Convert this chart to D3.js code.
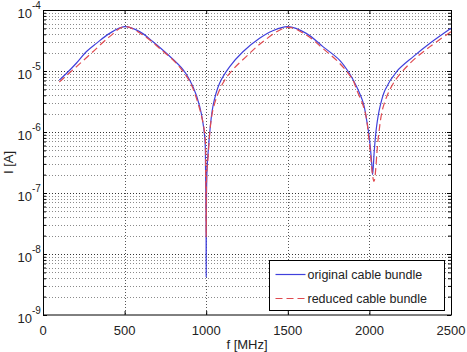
<!DOCTYPE html>
<html>
<head>
<meta charset="utf-8">
<script src="https://cdn.jsdelivr.net/npm/d3@7"></script>
<style>
  body { margin: 0; background: #fff; }
  svg { display: block; font-family: "Liberation Sans", Arial, sans-serif; }
</style>
</head>
<body>
<div id="chart"></div>
<script>
// values
var freqOrig = [100, 143, 204, 265, 327, 408, 500, 592, 674, 756, 858, 919, 960, 991, 996, 999, 1000, 1001, 1004, 1010,
                1041, 1082, 1143, 1225, 1327, 1408, 1500, 1613, 1715, 1817, 1878, 1922, 1963, 1983, 2000, 2014, 2020,
                2030, 2044, 2065, 2096, 2167, 2269, 2371, 2500];
var currOrig = [7.1e-6, 9.1e-6, 1.34e-5, 2.07e-5, 2.84e-5, 4.14e-5, 5.33e-5, 4.42e-5, 3.02e-5, 1.95e-5, 1.05e-5, 5.5e-6, 2.63e-6, 8.3e-7, 2.5e-7, 5.0e-8, 4.2e-9, 4.0e-8, 2.0e-7, 4.0e-7,
                2.6e-6, 6.3e-6, 1.17e-5, 2.07e-5, 3.44e-5, 4.57e-5, 5.33e-5, 4.14e-5, 2.51e-5, 1.51e-5, 9.1e-6, 5.5e-6, 2.95e-6, 1.58e-6, 7.9e-7, 3.1e-7, 2.0e-7,
                5.0e-7, 1.23e-6, 2.6e-6, 4.9e-6, 9.8e-6, 1.72e-5, 2.84e-5, 5.0e-5];

var freqRed = [100, 204, 306, 408, 500, 613, 715, 817, 899, 950, 991, 997, 1000, 1003, 1010,
               1041, 1102, 1163, 1245, 1347, 1500, 1613, 1715, 1817, 1899, 1922, 1960, 1980, 2000, 2028,
               2055, 2085, 2147, 2249, 2371, 2500];
var currRed = [6.6e-6, 1.17e-5, 2.07e-5, 3.66e-5, 5.33e-5, 3.89e-5, 2.34e-5, 1.34e-5, 6.7e-6, 2.95e-6, 9.5e-7, 2.0e-7, 1.9e-8, 2.0e-7, 3.5e-7,
               2.3e-6, 6.3e-6, 1.05e-5, 1.72e-5, 3.02e-5, 5.2e-5, 3.89e-5, 2.34e-5, 1.34e-5, 7.1e-6, 4.9e-6, 2.8e-6, 1.78e-6, 6.5e-7, 1.55e-7,
               8.3e-7, 2.6e-6, 6.3e-6, 1.34e-5, 2.51e-5, 4.4e-5];

var xTicks = [0, 500, 1000, 1500, 2000, 2500];
var yExponents = [-9, -8, -7, -6, -5, -4];
var legendLabels = ["original cable bundle", "reduced cable bundle"];

var margin = {top: 10, right: 16, bottom: 37, left: 43},
    width = 467 - margin.left - margin.right,
    height = 352 - margin.top - margin.bottom;

var x = d3.scaleLinear().domain([0, 2500]).range([0, width]);
var y = d3.scaleLog().domain([1e-9, 1e-4]).range([height, 0]);

var svg = d3.select("#chart").append("svg")
    .attr("width", 467)
    .attr("height", 352);

var g = svg.append("g")
    .attr("transform", "translate(" + margin.left + "," + margin.top + ")");

// minor log values
var minorVals = [];
yExponents.slice(0, -1).forEach(function(e) {
    for (var m = 2; m <= 9; m++) minorVals.push(m * Math.pow(10, e));
});
var majorVals = yExponents.map(function(e) { return Math.pow(10, e); });

// grid
g.append("g").selectAll("line")
    .data(minorVals)
    .enter().append("line")
    .attr("x1", 0).attr("x2", width)
    .attr("y1", function(d) { return Math.round(y(d)) + 0.5; })
    .attr("y2", function(d) { return Math.round(y(d)) + 0.5; })
    .attr("stroke", "#8a8a8a")
    .attr("stroke-dasharray", "1,2");

g.append("g").selectAll("line")
    .data(majorVals.slice(1, -1))
    .enter().append("line")
    .attr("x1", 0).attr("x2", width)
    .attr("y1", function(d) { return Math.round(y(d)) + 0.5; })
    .attr("y2", function(d) { return Math.round(y(d)) + 0.5; })
    .attr("stroke", "#333")
    .attr("stroke-dasharray", "1,2");

g.append("g").selectAll("line")
    .data(xTicks.slice(1, -1))
    .enter().append("line")
    .attr("y1", 0).attr("y2", height)
    .attr("x1", function(d) { return Math.round(x(d)) + 0.5; })
    .attr("x2", function(d) { return Math.round(x(d)) + 0.5; })
    .attr("stroke", "#555")
    .attr("stroke-dasharray", "1,2");

// inward ticks on all four sides
var yAxisL = d3.axisRight(y).tickValues(majorVals).tickSize(4).tickFormat("");
var yAxisR = d3.axisLeft(y).tickValues(majorVals).tickSize(4).tickFormat("");
var yMinorL = d3.axisRight(y).tickValues(minorVals).tickSize(3).tickFormat("");
var yMinorR = d3.axisLeft(y).tickValues(minorVals).tickSize(3).tickFormat("");
var xAxisB = d3.axisTop(x).tickValues(xTicks).tickSize(4).tickFormat("");
var xAxisT = d3.axisBottom(x).tickValues(xTicks).tickSize(4).tickFormat("");

[yAxisL, yMinorL].forEach(function(a) { g.append("g").call(a); });
[yAxisR, yMinorR].forEach(function(a) { g.append("g").attr("transform", "translate(" + width + ",0)").call(a); });
g.append("g").attr("transform", "translate(0," + height + ")").call(xAxisB);
g.append("g").call(xAxisT);
g.selectAll(".domain").remove();
g.selectAll(".tick line").attr("stroke", "#000");

// data lines
var line = d3.line()
    .x(function(d) { return x(d[0]); })
    .y(function(d) { return y(d[1]); })
    .curve(d3.curveCatmullRom.alpha(0.5));

g.append("path")
    .datum(d3.zip(freqOrig, currOrig))
    .attr("fill", "none")
    .attr("stroke", "#4040dc")
    .attr("stroke-width", 1.2)
    .attr("d", line);

g.append("path")
    .datum(d3.zip(freqRed, currRed))
    .attr("fill", "none")
    .attr("stroke", "#e04a50")
    .attr("stroke-width", 1.2)
    .attr("stroke-dasharray", "7,4")
    .attr("d", line);

// box
g.append("rect")
    .attr("x", 0.5).attr("y", 0.5)
    .attr("width", width).attr("height", height - 0.5)
    .attr("fill", "none")
    .attr("stroke", "#000");

// tick labels
g.append("g").selectAll("text")
    .data(xTicks)
    .enter().append("text")
    .attr("x", function(d) { return x(d); })
    .attr("y", height + 20)
    .attr("text-anchor", "middle")
    .attr("font-size", 13)
    .attr("fill", "#222")
    .text(function(d) { return d; });

var yl = g.append("g").selectAll("g")
    .data(yExponents)
    .enter().append("g")
    .attr("transform", function(d) { return "translate(-11," + y(Math.pow(10, d)) + ")"; });
yl.append("text")
    .attr("x", 0).attr("y", 8)
    .attr("text-anchor", "end")
    .attr("font-size", 13)
    .attr("fill", "#222")
    .text("10");
yl.append("text")
    .attr("x", 0).attr("y", -1.5)
    .attr("font-size", 10)
    .attr("fill", "#222")
    .text(function(d) { return "-" + Math.abs(d); });

// axis titles
g.append("text")
    .attr("x", width / 2)
    .attr("y", height + 34)
    .attr("text-anchor", "middle")
    .attr("font-size", 13)
    .attr("fill", "#222")
    .text("f [MHz]");

g.append("text")
    .attr("transform", "rotate(-90)")
    .attr("x", -height / 2)
    .attr("y", -30)
    .attr("text-anchor", "middle")
    .attr("font-size", 13)
    .attr("fill", "#222")
    .text("I [A]");

// legend
var lg = svg.append("g").attr("transform", "translate(269.5,260.5)");
lg.append("rect")
    .attr("width", 175).attr("height", 50)
    .attr("fill", "#fff")
    .attr("stroke", "#000");
var legColors = ["#4040dc", "#e04a50"];
var legDash = [null, "7,4"];
legendLabels.forEach(function(lab, i) {
    var yy = 14 + i * 24;
    lg.append("line")
        .attr("x1", 6).attr("x2", 36)
        .attr("y1", yy).attr("y2", yy)
        .attr("stroke", legColors[i])
        .attr("stroke-width", 1.2)
        .attr("stroke-dasharray", legDash[i]);
    lg.append("text")
        .attr("x", 38).attr("y", yy + 4.5)
        .attr("font-size", 12.5)
        .attr("fill", "#222")
        .text(lab);
});
</script>
</body>
</html>
